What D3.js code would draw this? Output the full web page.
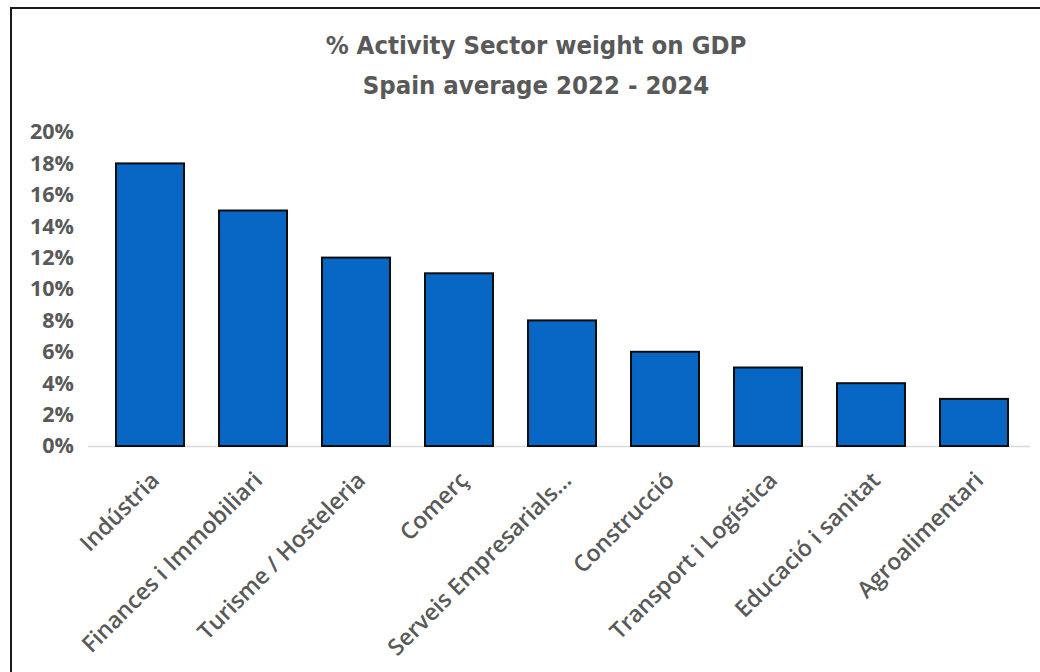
<!DOCTYPE html>
<html>
<head>
<meta charset="utf-8">
<script src="https://cdn.jsdelivr.net/npm/d3@7"></script>
<style>
  html, body { margin: 0; padding: 0; background: #ffffff; }
  svg { display: block; }
</style>
</head>
<body>
<svg id="chart" width="1040" height="672"></svg>
<script>
// Sector names and their share of GDP (%)
const sectors = [
  "Indústria",
  "Finances i Immobiliari",
  "Turisme / Hosteleria",
  "Comerç",
  "Serveis Empresarials...",
  "Construcció",
  "Transport i Logística",
  "Educació i sanitat",
  "Agroalimentari"
];
const shares = [18, 15, 12, 11, 8, 6, 5, 4, 3];
const yTicks = [0, 2, 4, 6, 8, 10, 12, 14, 16, 18, 20];
const titleLines = ["% Activity Sector weight on GDP", "Spain average 2022 - 2024"];

const data = sectors.map((s, i) => ({ sector: s, value: shares[i] }));

const svg = d3.select("#chart");
const W = 1040, H = 672;

svg.append("rect").attr("width", W).attr("height", H).attr("fill", "#ffffff");

// frame: top and left edges
svg.append("line").attr("x1", 10).attr("x2", W).attr("y1", 8).attr("y2", 8)
  .attr("stroke", "#1a1a1a").attr("stroke-width", 2);
svg.append("line").attr("x1", 11).attr("x2", 11).attr("y1", 7).attr("y2", H)
  .attr("stroke", "#1a1a1a").attr("stroke-width", 2);

const textGray = "#595959";

// title
svg.append("g").selectAll("text").data(titleLines).join("text")
  .attr("x", 536)
  .attr("y", (d, i) => 54 + i * 40)
  .attr("text-anchor", "middle")
  .attr("font-family", "'Liberation Sans Narrow', 'DejaVu Sans Condensed', 'Roboto', sans-serif")
  .attr("font-weight", "bold")
  .attr("font-size", 25.5)
  .attr("fill", textGray)
  .text(d => d);

const x = d3.scaleBand()
  .domain(sectors)
  .range([98.5, 1025.5])
  .paddingInner(0.34)
  .paddingOuter(0.17);

const y = d3.scaleLinear().domain([0, 20]).range([446, 132]);

// category axis along the baseline (drawn beneath the bars)
const xAxis = d3.axisBottom(x).tickSize(0).tickPadding(0);
const gx = svg.append("g").attr("transform", `translate(0,${y(0)})`).call(xAxis);
gx.select(".domain")
  .attr("d", "M88,0.5H1030")
  .attr("stroke", "#d9d9d9")
  .attr("stroke-width", 1.5);
gx.selectAll(".tick text")
  .attr("font-family", "'Open Sans', sans-serif")
  .attr("font-weight", 600)
  .attr("font-size", 23)
  .attr("fill", textGray)
  .attr("text-anchor", "end")
  .attr("dy", "0.35em")
  .attr("transform", "translate(5,30) rotate(-45)");

// y axis labels
const yAxis = d3.axisLeft(y)
  .tickValues(yTicks)
  .tickFormat(d => d + "%")
  .tickSize(0)
  .tickPadding(0);

const gy = svg.append("g").attr("transform", "translate(74,0)").call(yAxis);
gy.select(".domain").remove();
gy.selectAll("text")
  .attr("font-family", "'Open Sans', sans-serif")
  .attr("font-weight", "bold")
  .attr("font-size", 21.5)
  .attr("fill", textGray);

// bars
svg.append("g").selectAll("rect").data(data).join("rect")
  .attr("x", d => x(d.sector))
  .attr("y", d => y(d.value))
  .attr("width", x.bandwidth())
  .attr("height", d => y(0) - y(d.value))
  .attr("fill", "#0866c4")
  .attr("stroke", "#0d0d0d")
  .attr("stroke-width", 2);
</script>
</body>
</html>
